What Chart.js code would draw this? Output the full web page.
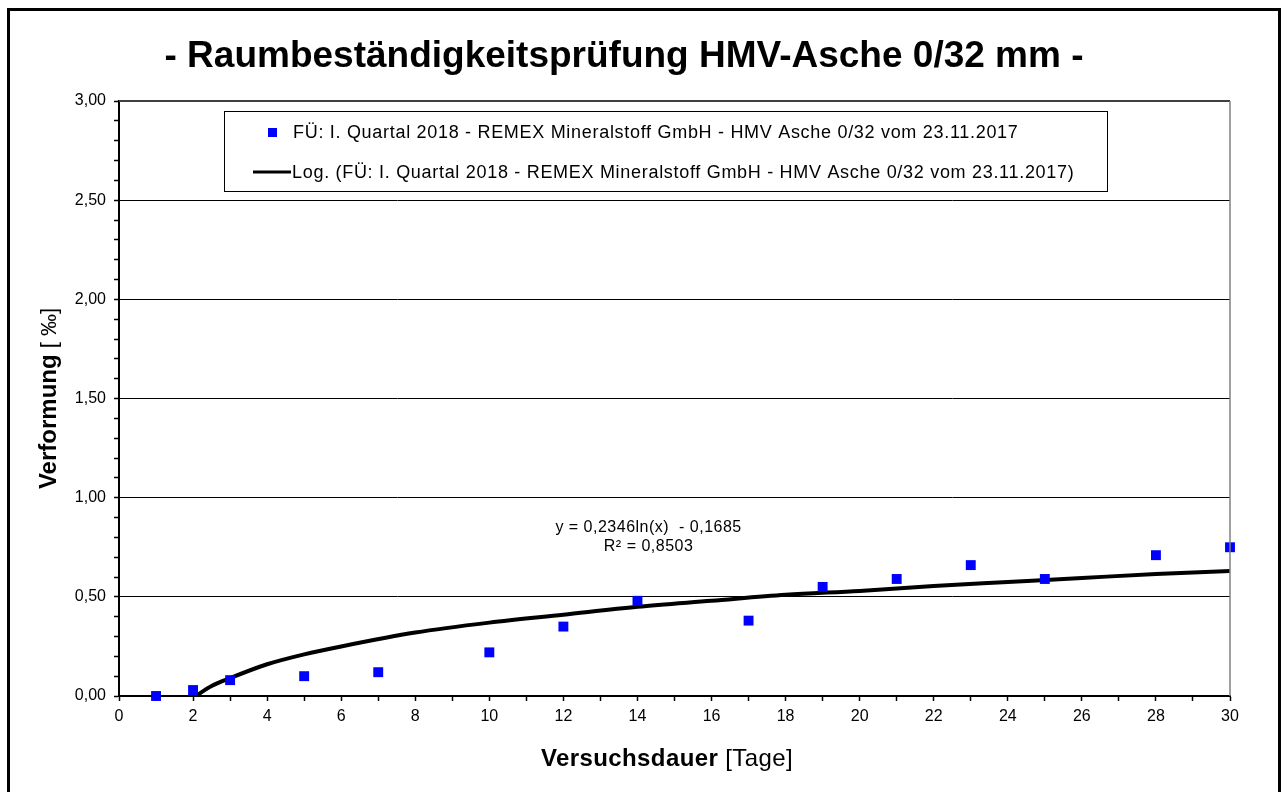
<!DOCTYPE html>
<html>
<head>
<meta charset="utf-8">
<script src="https://cdn.jsdelivr.net/npm/chart.js@4.4.0/dist/chart.umd.min.js"></script>
<style>
  html, body { margin: 0; padding: 0; background: #fff; }
  #wrap { width: 1283px; height: 792px; }
</style>
</head>
<body>
<div id="wrap"><canvas id="myChart" width="1283" height="792"></canvas></div>
<script>
// Messwerte (Versuchsdauer in Tagen, Verformung in Promille)
var days = [1, 2, 3, 5, 7, 10, 12, 14, 17, 19, 21, 23, 25, 28, 30];
var deform = [0.00, 0.03, 0.08, 0.10, 0.12, 0.22, 0.35, 0.48, 0.38, 0.55, 0.59, 0.66, 0.59, 0.71, 0.75];

// Trendlinie
var trendX = [2.07, 2.5, 3, 4, 5, 6, 8, 10, 12, 14, 16, 18, 20, 22, 24, 26, 28, 30];
var trendY = [0.00, 0.05, 0.09, 0.16, 0.21, 0.25, 0.32, 0.37, 0.41, 0.45, 0.48, 0.51, 0.53, 0.555, 0.575, 0.595, 0.615, 0.63];

var xTicks = [0, 2, 4, 6, 8, 10, 12, 14, 16, 18, 20, 22, 24, 26, 28, 30];
var yTicks = [0, 0.5, 1, 1.5, 2, 2.5, 3];

var seriesLabel = "FÜ: I. Quartal 2018 - REMEX Mineralstoff GmbH - HMV Asche 0/32 vom 23.11.2017";
var trendLabel = "Log. (FÜ: I. Quartal 2018 - REMEX Mineralstoff GmbH - HMV Asche 0/32 vom 23.11.2017)";
var titleText = "- Raumbeständigkeitsprüfung HMV-Asche 0/32 mm -";
var eqLines = ["y = 0,2346ln(x)  - 0,1685", "R² = 0,8503"];

var FONT = "'Liberation Sans', Arial, sans-serif";

function isMajorY(v) {
  return yTicks.some(function (t) { return Math.abs(t - v) < 1e-6; });
}

var pts = days.map(function (d, i) { return { x: d, y: deform[i] }; });
var trend = trendX.map(function (d, i) { return { x: d, y: trendY[i] }; });

var decoPlugin = {
  id: "deco",
  beforeDraw: function (chart) {
    var c = chart.ctx;
    c.save();
    c.fillStyle = "#fff";
    c.fillRect(0, 0, chart.width, chart.height);
    c.restore();
  },
  afterDraw: function (chart) {
    var c = chart.ctx;
    var a = chart.chartArea;
    var xs = chart.scales.x, ys = chart.scales.y;
    c.save();

    // Rahmen aussen
    c.strokeStyle = "#000";
    c.lineWidth = 3;
    c.strokeRect(8.5, 9.5, 1271, 800);

    // obere und rechte Kante der Zeichenflaeche
    c.strokeStyle = "#404040";
    c.lineWidth = 2;
    c.beginPath();
    c.moveTo(a.left, a.top);
    c.lineTo(a.right, a.top);
    c.stroke();
    c.strokeStyle = "#808080";
    c.lineWidth = 1.5;
    c.beginPath();
    c.moveTo(a.right, a.top);
    c.lineTo(a.right, a.bottom);
    c.stroke();

    // Titel
    c.fillStyle = "#000";
    c.font = "bold 37px " + FONT;
    c.textAlign = "center";
    c.textBaseline = "alphabetic";
    c.fillText(titleText, 624, 67);

    // x-Achsentitel: fett + normal
    var b1 = "Versuchsdauer", b2 = " [Tage]";
    c.font = "bold 24px " + FONT;
    c.letterSpacing = "0.4px";
    var w1 = c.measureText(b1).width;
    c.font = "24px " + FONT;
    var w2 = c.measureText(b2).width;
    var sx = 667 - (w1 + w2) / 2;
    c.textAlign = "left";
    c.font = "bold 24px " + FONT;
    c.fillText(b1, sx, 766);
    c.font = "24px " + FONT;
    c.fillText(b2, sx + w1, 766);
    c.letterSpacing = "0px";

    // y-Achsentitel gedreht
    var t1 = "Verformung", t2 = " [ ‰]";
    c.save();
    c.translate(56, (a.top + a.bottom) / 2);
    c.rotate(-Math.PI / 2);
    c.font = "bold 24px " + FONT;
    var v1 = c.measureText(t1).width;
    c.font = "22px " + FONT;
    var v2 = c.measureText(t2).width;
    var sy = -(v1 + v2) / 2;
    c.font = "bold 24px " + FONT;
    c.fillText(t1, sy, 0);
    c.font = "22px " + FONT;
    c.fillText(t2, sy + v1, 0);
    c.restore();

    // Legende
    c.fillStyle = "#fff";
    c.fillRect(224, 111, 883, 80);
    c.strokeStyle = "#000";
    c.lineWidth = 1;
    c.strokeRect(224.5, 111.5, 883, 80);
    var ds = chart.data.datasets;
    c.fillStyle = ds[0].backgroundColor;
    c.fillRect(268, 128, 9, 9);
    c.strokeStyle = ds[1].borderColor;
    c.lineWidth = 3;
    c.beginPath();
    c.moveTo(253, 172);
    c.lineTo(291, 172);
    c.stroke();
    c.fillStyle = "#000";
    c.font = "18px " + FONT;
    c.letterSpacing = "0.7px";
    c.textAlign = "left";
    c.textBaseline = "middle";
    c.fillText(ds[0].label, 293, 133);
    c.fillText(ds[1].label, 292, 173);
    c.letterSpacing = "0px";

    // Gleichung der Trendlinie
    c.font = "16px " + FONT;
    c.letterSpacing = "0.5px";
    c.textAlign = "center";
    var ex = xs.getPixelForValue(14.3);
    var ey = ys.getPixelForValue(0.85);
    c.fillText(eqLines[0], ex, ey);
    c.fillText(eqLines[1], ex, ey + 19);
    c.restore();
  }
};

window.onload = function () {
  var ctx = document.getElementById("myChart").getContext("2d");
  var myChart = new Chart(ctx, {
    type: "scatter",
    data: {
      datasets: [
        {
          label: seriesLabel,
          data: pts,
          backgroundColor: "#0000FF",
          borderColor: "#0000FF",
          pointStyle: "rect",
          pointRadius: 7,
          pointBorderWidth: 0,
          clip: false,
          order: 0,
        },
        {
          label: trendLabel,
          data: trend,
          showLine: true,
          borderColor: "#000000",
          borderWidth: 4,
          pointRadius: 0,
          tension: 0.4,
          cubicInterpolationMode: "monotone",
          order: 1,
        },
      ],
    },
    options: {
      responsive: false,
      animation: false,
      layout: { padding: { left: 0, right: 53, top: 101, bottom: 0 } },
      plugins: {
        legend: { display: false },
        title: { display: false },
        tooltip: { enabled: false },
      },
      scales: {
        x: {
          type: "linear",
          min: 0,
          max: 30,
          afterFit: function (scale) { scale.height = 96; },
          afterBuildTicks: function (scale) {
            var t = [];
            for (var i = 0; i <= 30; i++) t.push({ value: i });
            scale.ticks = t;
          },
          ticks: {
            autoSkip: false,
            maxRotation: 0,
            color: "#000",
            padding: 6,
            font: { family: FONT, size: 16 },
            callback: function (v) { return xTicks.indexOf(v) >= 0 ? String(v) : ""; },
          },
          grid: { drawOnChartArea: false, tickLength: 5, tickColor: "#000", tickWidth: 1.5 },
          border: { color: "#000", width: 2 },
        },
        y: {
          min: 0,
          max: 3,
          afterFit: function (scale) { scale.width = 119; },
          afterBuildTicks: function (scale) {
            var t = [];
            for (var i = 0; i <= 30; i++) t.push({ value: i / 10 });
            scale.ticks = t;
          },
          ticks: {
            autoSkip: false,
            color: "#000",
            padding: 8,
            font: { family: FONT, size: 16 },
            callback: function (v) { return isMajorY(v) ? v.toFixed(2).replace(".", ",") : ""; },
          },
          grid: {
            color: function (c) { return c.tick && isMajorY(c.tick.value) ? "#000" : "rgba(0,0,0,0)"; },
            lineWidth: 1,
            tickLength: 5,
            tickColor: "#000",
            tickWidth: 1.5,
          },
          border: { color: "#000", width: 2 },
        },
      },
    },
    plugins: [decoPlugin],
  });
};
</script>
</body>
</html>
